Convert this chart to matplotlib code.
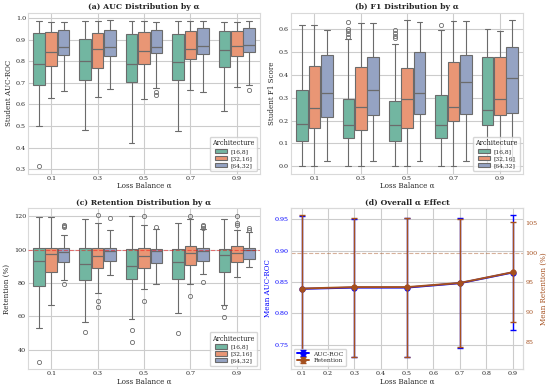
import matplotlib
matplotlib.use("Agg")
import matplotlib.pyplot as plt
from matplotlib.patches import Patch
import seaborn as sns

# ---------------- data ----------------
alphas = [0.1, 0.3, 0.5, 0.7, 0.9]
alpha_labels = ["0.1", "0.3", "0.5", "0.7", "0.9"]
archs = ["[16,8]", "[32,16]", "[64,32]"]

# (a) AUC box statistics per architecture (one value per alpha)
auc_whislo = {"[16,8]": [0.502, 0.483, 0.420, 0.475, 0.571],
              "[32,16]": [0.629, 0.635, 0.626, 0.669, 0.680],
              "[64,32]": [0.663, 0.672, 0.678, 0.658, 0.688]}
auc_q1 = {"[16,8]": [0.691, 0.714, 0.703, 0.713, 0.775],
          "[32,16]": [0.778, 0.769, 0.789, 0.812, 0.825],
          "[64,32]": [0.829, 0.826, 0.836, 0.835, 0.842]}
auc_med = {"[16,8]": [0.786, 0.800, 0.787, 0.797, 0.854],
           "[32,16]": [0.843, 0.857, 0.849, 0.855, 0.870],
           "[64,32]": [0.868, 0.868, 0.865, 0.870, 0.874]}
auc_q3 = {"[16,8]": [0.930, 0.904, 0.925, 0.925, 0.938],
          "[32,16]": [0.936, 0.933, 0.936, 0.941, 0.941],
          "[64,32]": [0.946, 0.946, 0.947, 0.953, 0.952]}
auc_whishi = {"[16,8]": [0.988, 0.988, 0.988, 0.988, 0.984],
              "[32,16]": [0.984, 0.988, 0.988, 0.988, 0.983],
              "[64,32]": [0.984, 0.990, 0.984, 0.988, 0.988]}
auc_fliers = {"[16,8]": [[0.313], [], [], [], []],
              "[32,16]": [[], [], [], [], []],
              "[64,32]": [[], [], [0.657, 0.642], [], [0.665]]}

# (b) F1 box statistics
f1_whislo = {"[16,8]": [0.0, 0.0, 0.0, 0.0, 0.0],
             "[32,16]": [0.0, 0.0, 0.0, 0.0, 0.0],
             "[64,32]": [0.025, 0.025, 0.025, 0.025, 0.025]}
f1_q1 = {"[16,8]": [0.111, 0.122, 0.111, 0.122, 0.182],
         "[32,16]": [0.170, 0.160, 0.170, 0.200, 0.227],
         "[64,32]": [0.218, 0.224, 0.230, 0.231, 0.235]}
f1_med = {"[16,8]": [0.185, 0.180, 0.180, 0.182, 0.246],
          "[32,16]": [0.256, 0.259, 0.297, 0.258, 0.294],
          "[64,32]": [0.320, 0.333, 0.320, 0.371, 0.386]}
f1_q3 = {"[16,8]": [0.333, 0.297, 0.287, 0.314, 0.479],
         "[32,16]": [0.440, 0.436, 0.432, 0.457, 0.479],
         "[64,32]": [0.486, 0.478, 0.503, 0.488, 0.524]}
f1_whishi = {"[16,8]": [0.617, 0.560, 0.537, 0.597, 0.603],
             "[32,16]": [0.617, 0.629, 0.640, 0.636, 0.595],
             "[64,32]": [0.597, 0.629, 0.632, 0.636, 0.639]}
f1_fliers = {"[16,8]": [[], [0.632, 0.603, 0.592, 0.580, 0.566],
                        [0.597, 0.585, 0.573, 0.561], [0.617], []],
             "[32,16]": [[], [], [], [], []],
             "[64,32]": [[], [], [], [], []]}

# (c) Retention box statistics (%)
ret_whislo = {"[16,8]": [53.2, 56.4, 58.4, 62.0, 67.0],
              "[32,16]": [66.8, 74.0, 76.2, 79.2, 83.6],
              "[64,32]": [82.0, 84.8, 79.6, 85.2, 89.6]}
ret_q1 = {"[16,8]": [78.0, 81.6, 82.4, 82.4, 86.8],
          "[32,16]": [86.8, 89.2, 89.2, 90.8, 92.4],
          "[64,32]": [92.8, 93.2, 92.0, 93.2, 94.6]}
ret_med = {"[16,8]": [93.2, 91.2, 90.4, 92.8, 96.8],
           "[32,16]": [97.2, 96.0, 96.4, 98.0, 98.0],
           "[64,32]": [98.8, 99.2, 99.2, 99.2, 100.0]}
ret_q3 = {"[16,8]": [100.8, 100.8, 100.4, 100.6, 100.6],
          "[32,16]": [101.2, 101.2, 101.2, 102.0, 102.0],
          "[64,32]": [100.8, 101.2, 100.6, 101.0, 101.0]}
ret_whishi = {"[16,8]": [119.2, 118.0, 120.0, 115.6, 118.0],
              "[32,16]": [119.6, 116.0, 114.8, 118.0, 111.8],
              "[64,32]": [108.8, 111.6, 112.2, 112.0, 110.4]}
ret_fliers = {"[16,8]": [[32.8], [50.4], [51.6, 44.8], [50.2], [65.3, 59.8]],
              "[32,16]": [[], [120.4, 69.3, 65.3], [120.0, 69.2], [120.0, 72.0],
                          [120.0, 115.8, 114.8]],
              "[64,32]": [[114.8, 113.8, 113.2, 79.4], [118.8], [113.2],
                          [114.8, 113.8, 112.8, 80.6], [112.8, 111.6]]}

# (d) overall effect
auc_mean = [0.839, 0.841, 0.841, 0.848, 0.865]
auc_std = [0.116, 0.110, 0.111, 0.104, 0.091]
ret_mean = [93.96, 94.2, 94.2, 94.9, 96.7]
ret_std = [12.3, 11.7, 11.7, 10.8, 8.4]

# ---------------- style ----------------
sns.set_style("whitegrid")
plt.rcParams["font.family"] = ["DejaVu Serif"]
plt.rcParams["axes.edgecolor"] = "0.85"

base = sns.color_palette("Set2", 3)
colors = [sns.desaturate(c, 0.75) for c in base]
line_c = "0.42"

TICK = 4.6
LAB = 5.1
TIT = 5.6
LEG = 4.3

fig, axes = plt.subplots(2, 2, figsize=(5.5, 3.92), dpi=100)
fig.subplots_adjust(left=0.051, right=0.951, top=0.967, bottom=0.059,
                    wspace=0.135, hspace=0.215)


def box_panel(ax, whislo, q1, med, q3, whishi, fliers, title, ylabel):
    width = 0.25
    offs = [-0.267, 0.0, 0.267]
    for j, a in enumerate(archs):
        stats = []
        for i in range(len(alphas)):
            stats.append(dict(whislo=whislo[a][i], q1=q1[a][i], med=med[a][i],
                              q3=q3[a][i], whishi=whishi[a][i],
                              fliers=fliers[a][i]))
        pos = [i + offs[j] for i in range(len(alphas))]
        ax.bxp(stats, positions=pos, widths=width, patch_artist=True,
               showfliers=True, capwidths=width * 0.5, manage_ticks=False,
               boxprops=dict(facecolor=colors[j], edgecolor=line_c, linewidth=0.8),
               whiskerprops=dict(color=line_c, linewidth=0.8),
               capprops=dict(color=line_c, linewidth=0.8),
               medianprops=dict(color=line_c, linewidth=0.9),
               flierprops=dict(marker="o", markerfacecolor="none",
                               markeredgecolor=line_c, markersize=3,
                               markeredgewidth=0.6))
    ax.set_xticks(range(len(alphas)))
    ax.set_xticklabels(alpha_labels)
    ax.set_xlim(-0.5, len(alphas) - 0.5)
    ax.set_title(title, fontsize=TIT, fontweight="bold", pad=2.5)
    ax.set_ylabel(ylabel, fontsize=LAB, labelpad=2)
    ax.set_xlabel("Loss Balance α", fontsize=LAB, labelpad=1)
    ax.tick_params(labelsize=TICK, pad=1.5, length=0)
    handles = [Patch(facecolor=colors[j], edgecolor=line_c, linewidth=0.8,
                     label=archs[j]) for j in range(3)]
    ax.legend(handles=handles, title="Architecture", loc="lower right",
              fontsize=LEG, title_fontsize=LEG + 0.4, handlelength=2.0,
              borderpad=0.4, labelspacing=0.3, handletextpad=0.6)
    return ax


box_panel(axes[0, 0], auc_whislo, auc_q1, auc_med, auc_q3, auc_whishi,
          auc_fliers, "(a) AUC Distribution by α", "Student AUC-ROC")
box_panel(axes[0, 1], f1_whislo, f1_q1, f1_med, f1_q3, f1_whishi,
          f1_fliers, "(b) F1 Distribution by α", "Student F1 Score")
axc = box_panel(axes[1, 0], ret_whislo, ret_q1, ret_med, ret_q3, ret_whishi,
                ret_fliers, "(c) Retention Distribution by α", "Retention (%)")
axc.axhline(100, color="red", linestyle="--", linewidth=0.8, alpha=0.45, zorder=5)

# (d)
ax4 = axes[1, 1]
auc_c = "blue"
ret_c = "#a5501f"
h1 = ax4.errorbar(alphas, auc_mean, yerr=auc_std, color=auc_c, marker="o",
                  markersize=3.5, linewidth=1.4, capsize=2.5, elinewidth=1.0,
                  capthick=1.0, label="AUC-ROC")
ax4.set_ylabel("Mean AUC-ROC", color=auc_c, fontsize=LAB, labelpad=2)
ax4.tick_params(labelsize=TICK, pad=1.5, length=0)
ax4.tick_params(axis="y", labelcolor=auc_c)
ax4.set_xlabel("Loss Balance α", fontsize=LAB, labelpad=1)
ax4.set_xticks([0.1, 0.2, 0.3, 0.4, 0.5, 0.6, 0.7, 0.8, 0.9])
ax4.set_title("(d) Overall α Effect", fontsize=TIT, fontweight="bold", pad=2.5)

ax5 = ax4.twinx()
ax5.grid(False)
h2 = ax5.errorbar(alphas, ret_mean, yerr=ret_std, color=ret_c, marker="o",
                  markersize=3.5, linewidth=1.4, capsize=2.5, elinewidth=1.0,
                  capthick=1.0, label="Retention")
ax5.axhline(100, color=ret_c, linestyle="--", linewidth=0.8, alpha=0.45)
ax5.set_ylabel("Mean Retention (%)", color=ret_c, fontsize=LAB, labelpad=2)
ax5.tick_params(axis="y", labelcolor=ret_c, labelsize=TICK, pad=1.5, length=0)
for sp in ax5.spines.values():
    sp.set_color("0.85")
ax5.legend([h1, h2], ["AUC-ROC", "Retention"], loc="lower left", fontsize=LEG,
           borderpad=0.4, labelspacing=0.3, handlelength=2.0)

fig.savefig("out.png", dpi=100)
